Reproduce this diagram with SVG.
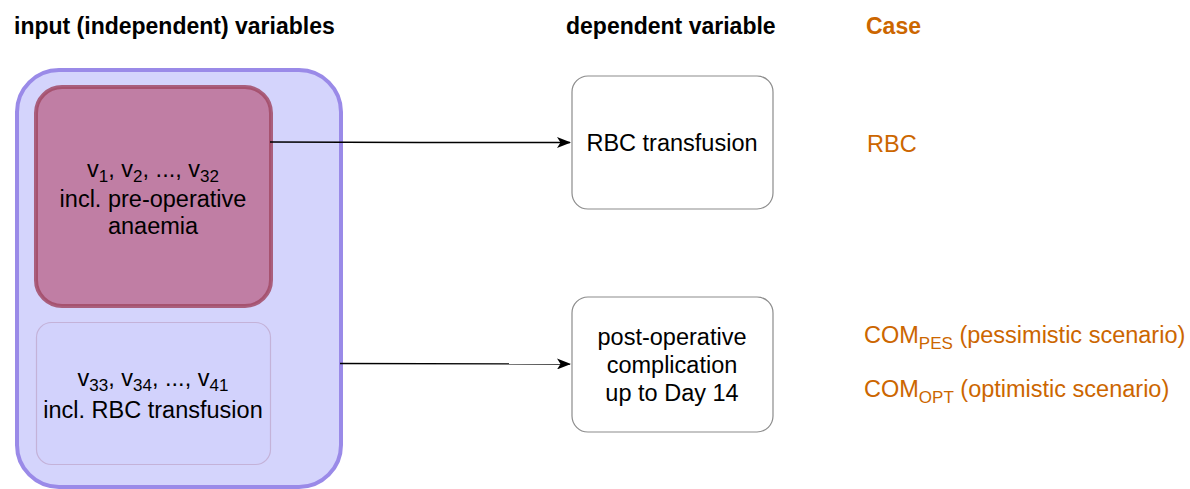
<svg xmlns="http://www.w3.org/2000/svg" width="1190" height="489" viewBox="0 0 1190 489">
  <defs>
    <marker id="arrow" markerWidth="14" markerHeight="11" refX="13" refY="5.5" orient="auto" markerUnits="userSpaceOnUse">
      <path d="M0,0 L14,5.5 L0,11 L3.5,5.5 Z" fill="#000"/>
    </marker>
  </defs>
  <style>
    text { font-family: "Liberation Sans", Arial, Helvetica, sans-serif; }
    .head { font-size: 23px; font-weight: bold; }
    .lbl { font-size: 23.5px; fill: #000; text-anchor: middle; }
    .case { font-size: 23.5px; fill: #CC6600; }
    .sub { font-size: 17px; }
    .dep { fill: #fff; stroke: #8c8c8c; stroke-width: 1.2; }
    .edge { fill: none; stroke: #000; stroke-width: 1.3; marker-end: url(#arrow); }
  </style>
  <rect width="1190" height="489" fill="#fff"/>

  <!-- column headings -->
  <g id="headings">
    <text class="head" x="14" y="34">input (independent) variables</text>
    <text class="head" x="566" y="34">dependent variable</text>
    <text class="head" x="866" y="34" fill="#CC6600">Case</text>
  </g>

  <!-- container of the input variables -->
  <g id="inputs">
    <rect x="17" y="70" width="324" height="417" rx="42" fill="#d4d4fc" stroke="#9a8ae8" stroke-width="4"/>
  </g>

  <g id="group-pre">
    <rect x="36" y="87" width="235" height="219" rx="26" fill="#c07ea4" stroke="#a14a66" stroke-width="4" stroke-opacity="0.85"/>
    <text class="lbl" x="153" y="177">v<tspan class="sub" dy="5">1</tspan><tspan dy="-5">, v</tspan><tspan class="sub" dy="5">2</tspan><tspan dy="-5">, ..., v</tspan><tspan class="sub" dy="5">32</tspan></text>
    <text class="lbl" x="153" y="207">incl. pre-operative</text>
    <text class="lbl" x="153" y="234">anaemia</text>
  </g>

  <g id="group-post">
    <rect x="36.5" y="322.5" width="234" height="142" rx="15" fill="#d2d2fc" stroke="#c4b2d8" stroke-width="1.2"/>
    <text class="lbl" x="153" y="386">v<tspan class="sub" dy="5">33</tspan><tspan dy="-5">, v</tspan><tspan class="sub" dy="5">34</tspan><tspan dy="-5">, ..., v</tspan><tspan class="sub" dy="5">41</tspan></text>
    <text class="lbl" x="153" y="418">incl. RBC transfusion</text>
  </g>

  <!-- dependent variables -->
  <g id="dep-rbc">
    <rect class="dep" x="572" y="76" width="201" height="133" rx="16"/>
    <text class="lbl" x="672" y="151">RBC transfusion</text>
  </g>

  <g id="dep-com">
    <rect class="dep" x="572" y="297" width="201" height="135" rx="16"/>
    <text class="lbl" x="672" y="345">post-operative</text>
    <text class="lbl" x="672" y="373">complication</text>
    <text class="lbl" x="672" y="401">up to Day 14</text>
  </g>

  <!-- cases -->
  <g id="cases">
    <text class="case" x="867" y="152">RBC</text>
    <text class="case" x="864" y="343">COM<tspan class="sub" dy="6">PES</tspan><tspan dy="-6"> (pessimistic scenario)</tspan></text>
    <text class="case" x="864" y="397">COM<tspan class="sub" dy="6">OPT</tspan><tspan dy="-6"> (optimistic scenario)</tspan></text>
  </g>

  <!-- connectors -->
  <g id="connectors">
    <path class="edge" d="M270,142 L420,142.5 L570,142.5"/>
    <path class="edge" d="M340,363.5 L570,364"/>
  </g>
</svg>
